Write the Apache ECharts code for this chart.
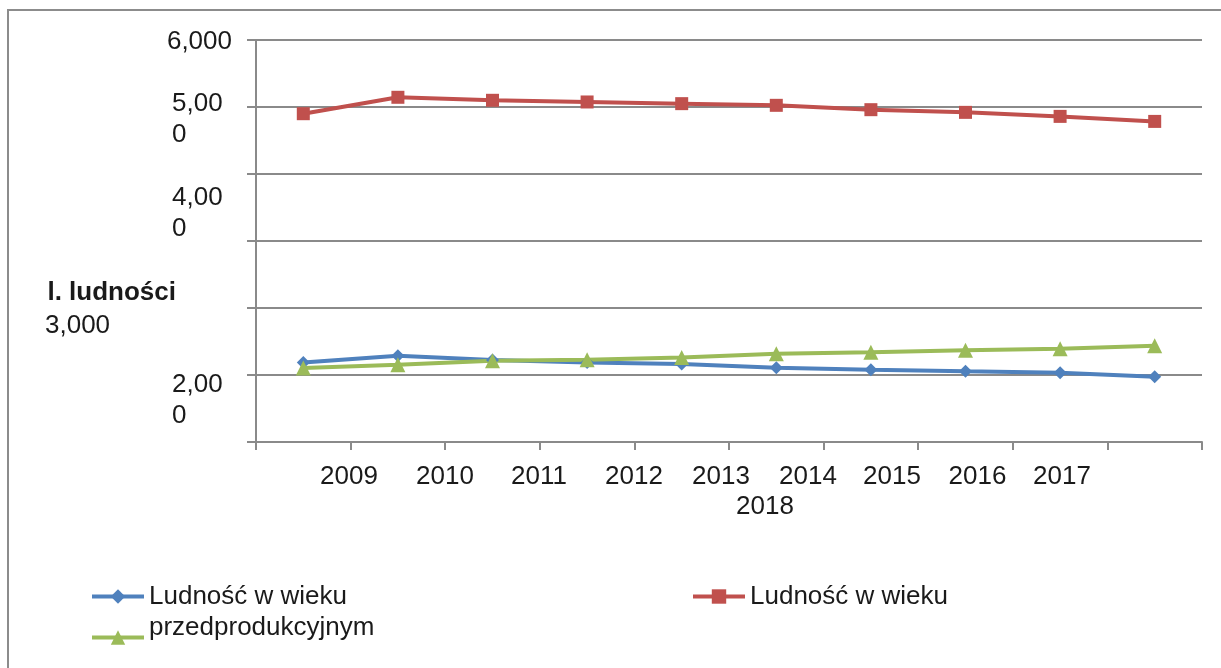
<!DOCTYPE html>
<html>
<head>
<meta charset="utf-8">
<script src="https://cdn.jsdelivr.net/npm/echarts@6/dist/echarts.min.js"></script>
<style>
  html, body { margin: 0; padding: 0; background: #fff; }
  #chart { width: 1221px; height: 668px; }
</style>
</head>
<body>
<div id="chart"></div>
<script>
// dane
const years = ['2009', '2010', '2011', '2012', '2013', '2014', '2015', '2016', '2017', '2018']
const przedprodukcyjny = [1188, 1288, 1224, 1188, 1164, 1110, 1080, 1057, 1035, 975]
const produkcyjny = [4900, 5145, 5100, 5075, 5050, 5025, 4960, 4920, 4860, 4785]
const poprodukcyjny = [1105, 1154, 1213, 1228, 1263, 1318, 1340, 1370, 1393, 1437]

const seriesNames = ['Ludność w wieku przedprodukcyjnym', 'Ludność w wieku produkcyjnym', 'Ludność w wieku poprodukcyjnym']
const legendLabels = ['Ludność w wieku\nprzedprodukcyjnym', 'Ludność w wieku', '']
const yTickValues = [6000, 5000, 4000, 3000, 2000]
const yTickLabels = ['6,000', '5,00\n0', '4,00\n0', '3,000', '2,00\n0']
const yAxisTitle = 'l. ludności'

// przesunięcia etykiet (tak jak na oryginale, etykiety "rozjechane")
const ySpacer = [4, 24, 78, 169, 185]
const yWidth = [0, 60, 60, 187, 60]
const xShift = [45.7, 47.1, 46.5, 46.9, 39.3, 31.7, 21.1, 12, 1.9, -389.7]
const xRow = [0, 0, 0, 0, 0, 0, 0, 0, 0, 1]

const FONT = "'Liberation Sans', Arial, sans-serif"
const TXT = '#1a1a1a'
const GRAY = '#8a8a8a'
const colors = ['#4F81BD', '#C0504D', '#9BBB59']
const symbols = ['diamond', 'rect', 'triangle']
const symbolSizes = [13, 13, 15]

const chart = echarts.init(document.getElementById('chart'))

// rich style dla osi Y
const yRich = {}
yTickValues.forEach((v, i) => {
	yRich['s' + i] = { fontSize: 1, lineHeight: ySpacer[i] }
	yRich['w' + i] = { fontSize: 26, lineHeight: 31, color: TXT, fontFamily: FONT, align: 'left' }
	if (yWidth[i]) yRich['w' + i].width = yWidth[i]
})

// rich style dla osi X
const xRich = {
	y: { fontSize: 26, lineHeight: 30, color: TXT, fontFamily: FONT },
	e: { fontSize: 26, lineHeight: 30 }
}
years.forEach((y, i) => {
	xRich['p' + i] = { fontSize: 26, lineHeight: 30, width: Math.abs(xShift[i]) * 2 }
})

const option = {
	animation: false,
	color: colors,
	textStyle: { fontFamily: FONT },
	grid: { left: 256, right: 19, top: 40, bottom: 226, containLabel: false, outerBoundsMode: 'none' },
	graphic: [{
		type: 'rect',
		silent: true,
		shape: { x: 8, y: 10, width: 1400, height: 800 },
		style: { fill: 'none', stroke: '#8c8c8c', lineWidth: 2 }
	}],
	legend: [0, 1, 2].map((i) => ({
		data: [seriesNames[i]],
		left: [90, 691, 90][i],
		top: [550, 581, 622][i],
		padding: 0,
		itemWidth: 52,
		itemHeight: 18,
		selectedMode: false,
		lineStyle: { width: 4 },
		formatter: () => {
			if (i === 0) return '{t| }\n' + legendLabels[0].split('\n').map((s) => '{t|' + s + '}').join('\n')
			if (i === 1) return '{t|' + legendLabels[1] + '}'
			return ' '
		},
		textStyle: {
			fontSize: 26,
			color: TXT,
			fontFamily: FONT,
			lineHeight: 31,
			rich: { t: { fontSize: 26, lineHeight: 31, color: TXT, fontFamily: FONT } }
		}
	})),
	xAxis: {
		type: 'category',
		data: years,
		boundaryGap: true,
		axisLine: { lineStyle: { color: GRAY, width: 2 } },
		axisTick: { show: true, length: 8, lineStyle: { color: GRAY, width: 2 } },
		axisLabel: {
			interval: 0,
			margin: 20,
			formatter: (val, idx) => {
				const txt = '{y|' + val + '}'
				const pad = '{p' + idx + '| }'
				const line = xShift[idx] >= 0 ? pad + txt : txt + pad
				return xRow[idx] ? '{e| }\n' + line : line
			},
			rich: xRich
		}
	},
	yAxis: {
		type: 'value',
		min: 0,
		max: 6000,
		interval: 1000,
		name: '{s| }\n{t|' + yAxisTitle + '}',
		nameLocation: 'middle',
		nameRotate: 0,
		nameGap: 80,
		nameMoveOverlap: false,
		nameTextStyle: {
			rich: {
				s: { fontSize: 1, lineHeight: 104 },
				t: { fontSize: 26, lineHeight: 31, fontWeight: 'bold', color: TXT, fontFamily: FONT }
			}
		},
		axisLine: { show: true, lineStyle: { color: GRAY, width: 2 } },
		axisTick: { show: true, length: 9, lineStyle: { color: GRAY, width: 2 } },
		splitLine: { lineStyle: { color: GRAY, width: 2 } },
		axisLabel: {
			margin: 24,
			align: 'right',
			formatter: (v) => {
				const i = yTickValues.indexOf(v)
				if (i < 0) return ''
				const lines = yTickLabels[i].split('\n').map((s) => '{w' + i + '|' + s + '}')
				return '{s' + i + '| }\n' + lines.join('\n')
			},
			rich: yRich
		}
	},
	series: [przedprodukcyjny, produkcyjny, poprodukcyjny].map((d, i) => ({
		name: seriesNames[i],
		type: 'line',
		data: d,
		symbol: symbols[i],
		symbolSize: symbolSizes[i],
		lineStyle: { width: 4, color: colors[i] },
		itemStyle: { color: colors[i] }
	}))
}

chart.setOption(option)
</script>
</body>
</html>
